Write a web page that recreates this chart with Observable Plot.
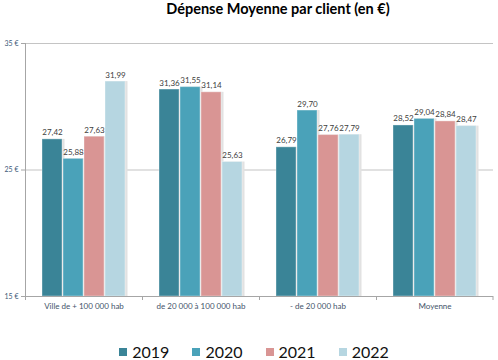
<!DOCTYPE html>
<html>
<head>
<meta charset="utf-8">
<script src="https://cdn.jsdelivr.net/npm/d3@7"></script>
<script src="https://cdn.jsdelivr.net/npm/@observablehq/plot@0.6"></script>
<style>
  body { margin: 0; background: #fff; width: 498px; height: 360px; overflow: hidden; font-family: Lato, "Open Sans", sans-serif; }
  #title { height: 30px; box-sizing: border-box; padding-left: 58px; text-align: center; font-weight: bold; font-size: 14.5px; line-height: 18px; padding-top: 0px; color: #000; }
  #chart { height: 290px; }
  #legend { height: 40px; box-sizing: border-box; padding-top: 24px; display: flex; justify-content: center; padding-left: 10px; gap: 23px; font-size: 16px; line-height: 16px; color: #111; }
  .item { display: flex; align-items: center; gap: 5px; }
  .sw { width: 8px; height: 8px; display: inline-block; }
</style>
</head>
<body>
<div id="title">Dépense Moyenne par client (en €)</div>
<div id="chart"></div>
<div id="legend"></div>
<script>
const categories = ["Ville de + 100 000 hab", "de 20 000 à 100 000 hab", "- de 20 000 hab", "Moyenne"];
const years = ["2019", "2020", "2021", "2022"];
const v2019 = [27.42, 31.36, 26.79, 28.52];
const v2020 = [25.88, 31.55, 29.70, 29.04];
const v2021 = [27.63, 31.14, 27.76, 28.84];
const v2022 = [31.99, 25.63, 27.79, 28.47];
const colors = ["#3a8497", "#4aa2b9", "#d99594", "#b6d6e1"];
const yTicks = [15, 25, 35];

const series = [v2019, v2020, v2021, v2022];
const data = [];
categories.forEach((c, i) => years.forEach((y, j) => data.push({category: c, year: y, value: series[j][i]})));

const fmt = v => v.toFixed(2).replace(".", ",");

const plot = Plot.plot({
  width: 498,
  height: 290,
  marginTop: 13,
  marginBottom: 24,
  marginLeft: 25,
  marginRight: 5,
  style: {fontFamily: "Lato, 'Open Sans', sans-serif", background: "#fff"},
  fx: {domain: categories, padding: 0, label: null},
  x: {domain: years, paddingInner: 0.05, paddingOuter: 0.8, axis: null},
  y: {domain: [15, 35], label: null},
  color: {domain: years, range: colors},
  marks: [
    Plot.ruleY(yTicks.slice(1), {stroke: "#c4c4c4", strokeWidth: 1.2}),
    Plot.barY(data, {fx: "category", x: "year", y1: 15, y2: "value", fill: "#e2e2e2", dx: 2.5}),
    Plot.barY(data, {fx: "category", x: "year", y1: 15, y2: "value", fill: "year", stroke: "#ffffff", strokeOpacity: 0.35, strokeWidth: 1}),
    Plot.text(data, {fx: "category", x: "year", y: "value", text: d => fmt(d.value), lineAnchor: "bottom", dy: -4, fontSize: 8, fill: "#404040"}),
    Plot.ruleY([15], {stroke: "#a6a6a6", strokeWidth: 1}),
    Plot.axisY({ticks: yTicks, tickFormat: d => d + " €", tickSize: 4, tickPadding: 3, fontSize: 7, color: "#3d5a7a", stroke: "#a6a6a6"}),
    Plot.axisFx({anchor: "bottom", tickSize: 0, tickPadding: 7, fontSize: 8, color: "#44546a", label: null})
  ]
});

// axis decorations: left axis line and category boundary ticks from Plot's own scales
const svg = d3.select(plot);
const fx = plot.scale("fx");
const ys = plot.scale("y");
const y0 = ys.apply(15), y1 = ys.apply(35);
const g = svg.append("g").attr("stroke", "#a6a6a6").attr("stroke-width", 1);
g.append("line").attr("x1", fx.apply(categories[0]) + 0.5).attr("x2", fx.apply(categories[0]) + 0.5).attr("y1", y1).attr("y2", y0);
categories.forEach((c, i) => {
  const x = fx.apply(c) + 0.5;
  g.append("line").attr("x1", x).attr("x2", x).attr("y1", y0).attr("y2", y0 + 4);
});
const lastX = fx.apply(categories[categories.length - 1]) + fx.bandwidth;
g.append("line").attr("x1", lastX).attr("x2", lastX).attr("y1", y0).attr("y2", y0 + 4);

document.getElementById("chart").append(plot);

const legend = document.getElementById("legend");
years.forEach((y, i) => {
  const it = document.createElement("div");
  it.className = "item";
  const sw = document.createElement("span");
  sw.className = "sw";
  sw.style.background = colors[i];
  const t = document.createElement("span");
  t.textContent = y;
  it.append(sw, t);
  legend.append(it);
});
</script>
</body>
</html>
